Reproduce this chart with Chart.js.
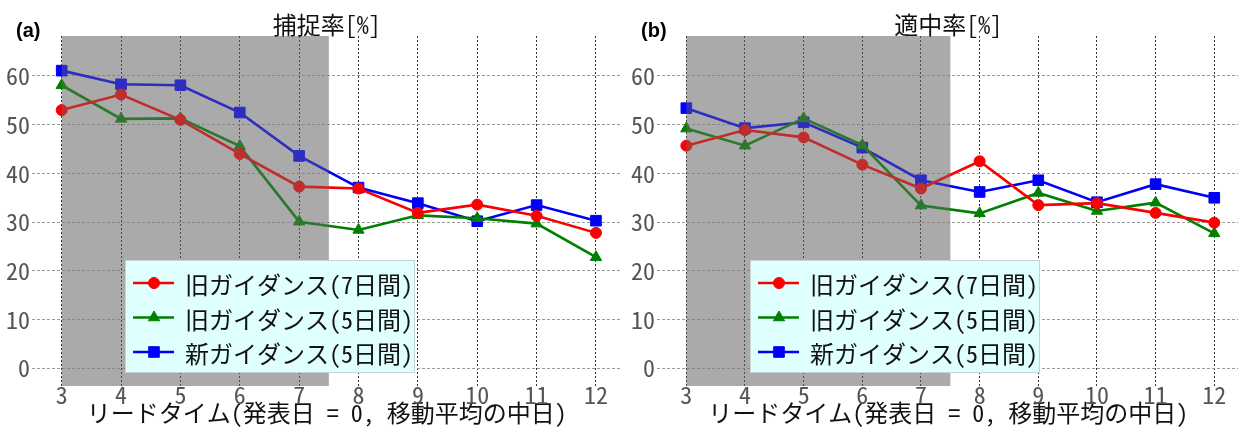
<!DOCTYPE html>
<html><head><meta charset="utf-8">
<script src="https://cdn.jsdelivr.net/npm/chart.js@4/dist/chart.umd.min.js"></script>
<style>
html,body{margin:0;padding:0;background:#fff;width:1238px;height:427px;overflow:hidden;position:relative}
#ca{position:absolute;left:0;top:0}
#cb{position:absolute;left:618px;top:0}
</style></head><body>
<canvas id="ca" width="630" height="427"></canvas>
<canvas id="cb" width="630" height="427"></canvas>
<script>
// ---- data ----
const leadDays = [3, 4, 5, 6, 7, 8, 9, 10, 11, 12];
const yTickValues = [0, 10, 20, 30, 40, 50, 60];
const seriesNames = ['旧ガイダンス(7日間)', '旧ガイダンス(5日間)', '新ガイダンス(5日間)'];
const panelTitles = ['捕捉率[%]', '適中率[%]'];
const panelLabels = ['(a)', '(b)'];
const xAxisTitle = 'リードタイム(発表日 = 0, 移動平均の中日)';
const shadeRange = [3, 7.5];
const captureOld7 = [53.0, 56.2, 51.0, 44.0, 37.3, 36.9, 31.9, 33.6, 31.3, 27.8];
const captureOld5 = [58.1, 51.2, 51.3, 45.6, 30.1, 28.4, 31.4, 30.8, 29.7, 22.8];
const captureNew5 = [61.1, 58.3, 58.1, 52.5, 43.6, 37.1, 33.9, 30.2, 33.5, 30.3];
const hitOld7 = [45.7, 48.9, 47.4, 41.8, 36.9, 42.5, 33.5, 33.9, 31.9, 29.9];
const hitOld5 = [49.2, 45.7, 51.3, 45.8, 33.4, 31.8, 36.0, 32.3, 34.0, 27.7];
const hitNew5 = [53.4, 49.3, 50.5, 45.3, 38.6, 36.2, 38.6, 34.1, 37.8, 35.0];

const FONT = "'Noto Sans Mono CJK JP', 'Noto Sans CJK JP', 'DejaVu Sans Mono', monospace";
const styles = [
  {color: 'rgb(250,0,0)', pointStyle: 'circle', radius: 5.5},
  {color: 'rgb(0,128,0)', pointStyle: 'triangle', radius: 6.5},
  {color: 'rgb(0,0,250)', pointStyle: 'rect', radius: 7.5}
];

function toXY(arr) { return leadDays.map((d, i) => ({x: d, y: arr[i]})); }

function drawMarker(ctx, style, x, y) {
  const r = style.radius;
  ctx.beginPath();
  if (style.pointStyle === 'circle') {
    ctx.arc(x, y, r, 0, Math.PI * 2);
  } else if (style.pointStyle === 'triangle') {
    ctx.moveTo(x, y - r);
    ctx.lineTo(x + r * 0.866, y + r / 2);
    ctx.lineTo(x - r * 0.866, y + r / 2);
    ctx.closePath();
  } else {
    const s = r * Math.SQRT1_2;
    ctx.rect(x - s, y - s, 2 * s, 2 * s);
  }
  ctx.fill();
  ctx.stroke();
}

function makeChart(id, series, idx, yAxisWidth, padRight) {
  const datasets = series.map((arr, i) => ({
    label: seriesNames[i],
    data: toXY(arr),
    borderColor: styles[i].color,
    backgroundColor: styles[i].color,
    pointBorderColor: styles[i].color,
    pointBackgroundColor: styles[i].color,
    pointStyle: styles[i].pointStyle,
    pointRadius: styles[i].radius,
    pointHoverRadius: styles[i].radius,
    pointBorderWidth: 1,
    borderWidth: 2.6,
    tension: 0,
    fill: false
  }));
  const shadeRect = chart => {
    const {chartArea: a, scales: {x}} = chart;
    const x1 = x.getPixelForValue(shadeRange[0]);
    const x2 = x.getPixelForValue(shadeRange[1]);
    return [x1, a.top, x2 - x1, a.bottom - a.top];
  };
  const shade = {
    id: 'shade' + idx,
    beforeDraw(chart) {
      const ctx = chart.ctx;
      ctx.save();
      ctx.fillStyle = '#d4d4d4';
      ctx.fillRect(...shadeRect(chart));
      ctx.restore();
    },
    afterDatasetsDraw(chart) {
      const ctx = chart.ctx;
      ctx.save();
      ctx.fillStyle = 'rgba(110,110,110,0.41)';
      ctx.fillRect(...shadeRect(chart));
      ctx.restore();
    }
  };
  const decor = {
    id: 'decor' + idx,
    afterDraw(chart) {
      const {ctx, chartArea: a} = chart;
      ctx.save();
      // panel label
      ctx.font = "bold 20px 'Liberation Sans', Arial, sans-serif";
      ctx.fillStyle = '#000';
      ctx.textAlign = 'left';
      ctx.textBaseline = 'middle';
      ctx.fillText(panelLabels[idx], a.left - 16, 31);
      // title
      ctx.font = '24px ' + FONT;
      ctx.fillStyle = '#111';
      ctx.textAlign = 'center';
      ctx.fillText(panelTitles[idx], (a.left + a.right) / 2, 25);
      // legend
      const bx = a.left + 93, by = 260, bw = 290, bh = 113;
      ctx.fillStyle = '#e0ffff';
      ctx.fillRect(bx, by, bw, bh);
      ctx.strokeStyle = '#c4d4d4';
      ctx.lineWidth = 1;
      ctx.strokeRect(bx + 0.5, by + 0.5, bw - 1, bh - 1);
      const rows = [23, 57.5, 92];
      chart.data.datasets.forEach((ds, i) => {
        const ry = by + rows[i];
        ctx.strokeStyle = styles[i].color;
        ctx.fillStyle = styles[i].color;
        ctx.lineWidth = 2.6;
        ctx.beginPath();
        ctx.moveTo(bx + 8, ry);
        ctx.lineTo(bx + 49, ry);
        ctx.stroke();
        ctx.lineWidth = 1;
        drawMarker(ctx, styles[i], bx + 29, ry);
        ctx.fillStyle = '#111';
        ctx.font = '24px ' + FONT;
        ctx.textAlign = 'left';
        ctx.textBaseline = 'middle';
        ctx.fillText(ds.label, bx + 60, ry + 2);
      });
      ctx.restore();
    }
  };
  return new Chart(document.getElementById(id), {
    type: 'line',
    data: {datasets},
    options: {
      responsive: false,
      animation: false,
      devicePixelRatio: 1,
      events: [],
      layout: {padding: {left: 0, right: padRight, top: 36, bottom: 0}},
      plugins: {legend: {display: false}, title: {display: false}, tooltip: {enabled: false}},
      scales: {
        x: {
          type: 'linear', min: 2.5, max: 12.43,
          afterBuildTicks: s => { s.ticks = leadDays.map(v => ({value: v})); },
          afterFit: s => { s.height = 41; },
          grid: {color: '#333', lineWidth: 1, drawTicks: false},
          border: {display: false, dash: [2, 2]},
          ticks: {font: {family: FONT, size: 24, lineHeight: 1}, color: '#555', padding: -3, maxRotation: 0, autoSkip: false},
          title: {display: true, text: xAxisTitle, font: {family: FONT, size: 24, lineHeight: 1.2}, color: '#111', padding: {top: 0, bottom: 0}}
        },
        y: {
          type: 'linear', min: -3.63, max: 68.21,
          afterBuildTicks: s => { s.ticks = yTickValues.map(v => ({value: v})); },
          afterFit: s => { s.width = yAxisWidth; },
          grid: {color: '#999', lineWidth: 1, drawTicks: false},
          border: {display: false, dash: [3, 2]},
          ticks: {font: {family: FONT, size: 24, lineHeight: 1}, color: '#555', padding: 2}
        }
      }
    },
    plugins: [shade, decor]
  });
}

makeChart('ca', [captureOld7, captureOld5, captureNew5], 0, 32, 7);
makeChart('cb', [hitOld7, hitOld5, hitNew5], 1, 39, 0);
</script>
</body></html>
